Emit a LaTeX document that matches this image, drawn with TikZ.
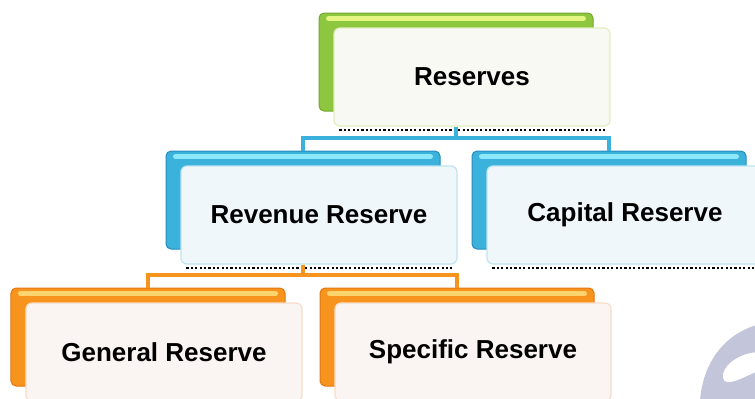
\documentclass[tikz,border=0pt]{standalone}
\usepackage{fontspec}
\setmainfont{Liberation Sans}
\definecolor{greenbase}{RGB}{141,198,63}
\definecolor{greenlight}{RGB}{228,245,130}
\definecolor{greenedge}{RGB}{118,168,48}
\definecolor{greenfill}{RGB}{247,249,242}
\definecolor{greenrim}{RGB}{225,238,190}
\definecolor{bluebase}{RGB}{58,178,220}
\definecolor{bluelight}{RGB}{140,232,250}
\definecolor{blueedge}{RGB}{38,140,190}
\definecolor{bluefill}{RGB}{240,247,250}
\definecolor{bluerim}{RGB}{190,228,240}
\definecolor{orangebase}{RGB}{247,148,29}
\definecolor{orangelight}{RGB}{255,212,110}
\definecolor{orangeedge}{RGB}{228,118,18}
\definecolor{orangefill}{RGB}{250,245,243}
\definecolor{orangerim}{RGB}{248,220,200}
\definecolor{wmark}{RGB}{195,197,218}
\tikzset{
  backbox/.style={rounded corners=5bp, minimum width=274bp, minimum height=98bp,
    inner sep=0pt, fill=#1base, draw=#1edge, line width=1bp},
  frontbox/.style={rounded corners=6bp, minimum width=276bp, minimum height=98bp,
    inner sep=0pt, fill=#1fill, draw=#1rim, line width=1.2bp,
    font=\fontsize{26bp}{30bp}\selectfont\bfseries, text=black},
  hilite/.style={#1light, line width=5bp, line cap=round},
  dotline/.style={black, line width=2.2bp, dash pattern=on 2.2bp off 2.2bp},
  link/.style={#1base, line width=3.5bp}
}
\begin{document}
\begin{tikzpicture}[x=1bp,y=-1bp]
\useasboundingbox (0,0) rectangle (755,398);
\clip (0,0) rectangle (755,398);
% connectors
\coordinate (m1) at (0,138);
\coordinate (m2) at (0,275);
% Reserves
\node[backbox=green] (bres) at (456,62) {};
\draw[hilite=green] ([xshift=10bp,yshift=-6bp]bres.north west) -- ([xshift=-10bp,yshift=-6bp]bres.north east);
\node[frontbox=green] (res) at (472,77) {Reserves};
\draw[dotline] ([xshift=6bp,yshift=-3bp]res.south west) -- ([xshift=-6bp,yshift=-3bp]res.south east);
% Revenue
\node[backbox=blue] (brev) at (303,200) {};
\draw[hilite=blue] ([xshift=10bp,yshift=-6bp]brev.north west) -- ([xshift=-10bp,yshift=-6bp]brev.north east);
\node[frontbox=blue] (rev) at (319,215) {Revenue Reserve};
\draw[dotline] ([xshift=6bp,yshift=-3bp]rev.south west) -- ([xshift=-6bp,yshift=-3bp]rev.south east);
% Capital
\node[backbox=blue] (bcap) at (609,200) {};
\draw[hilite=blue] ([xshift=10bp,yshift=-6bp]bcap.north west) -- ([xshift=-10bp,yshift=-6bp]bcap.north east);
\node[frontbox=blue] (cap) at (625,215) {Capital Reserve};
\draw[dotline] ([xshift=6bp,yshift=-3bp]cap.south west) -- ([xshift=-6bp,yshift=-3bp]cap.south east);
% General
\node[backbox=orange] (bgen) at (148,337) {};
\draw[hilite=orange] ([xshift=10bp,yshift=-6bp]bgen.north west) -- ([xshift=-10bp,yshift=-6bp]bgen.north east);
\node[frontbox=orange] (gen) at (164,352) {General Reserve};
% Specific
\node[backbox=orange] (bspe) at (457,337) {};
\draw[hilite=orange] ([xshift=10bp,yshift=-6bp]bspe.north west) -- ([xshift=-10bp,yshift=-6bp]bspe.north east);
\node[frontbox=orange] (spe) at (473,352) {Specific Reserve};
% links
\draw[link=blue] (bres |- res.south) -- (bres |- m1) -| (brev.north);
\draw[link=blue] (bres |- m1) -| (bcap.north);
\draw[link=orange] (brev |- rev.south) -- (brev |- m2) -| (bgen.north);
\draw[link=orange] (brev |- m2) -| (bspe.north);
% watermark fragment
\fill[wmark]
  (700,400) .. controls (703,365) and (722,334) .. (760,324) -- (760,400) -- cycle;
\fill[white]
  (760,352) .. controls (740,352) and (721,366) .. (723,378)
  .. controls (725,388) and (742,378) .. (760,370) -- cycle;
\end{tikzpicture}
\end{document}
